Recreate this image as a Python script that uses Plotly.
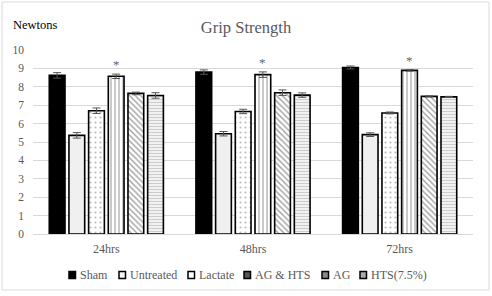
import plotly.graph_objects as go

categories = ["24hrs", "48hrs", "72hrs"]
series = ["Sham", "Untreated", "Lactate", "AG & HTS", "AG", "HTS(7.5%)"]
values = {
    "Sham":      [8.62, 8.80, 9.05],
    "Untreated": [5.36, 5.45, 5.40],
    "Lactate":   [6.70, 6.66, 6.58],
    "AG & HTS":  [8.57, 8.66, 8.89],
    "AG":        [7.64, 7.68, 7.48],
    "HTS(7.5%)": [7.53, 7.55, 7.45],
}
errors = {
    "Sham":      [0.15, 0.12, 0.08],
    "Untreated": [0.15, 0.12, 0.10],
    "Lactate":   [0.15, 0.12, 0.05],
    "AG & HTS":  [0.12, 0.15, 0.04],
    "AG":        [0.07, 0.15, 0.03],
    "HTS(7.5%)": [0.15, 0.12, 0.03],
}
starred = "AG & HTS"
y_ticks = list(range(0, 11))

styles = {
    "Sham":      dict(color="#000000", pattern=dict(shape=""), swatch="#000000"),
    "Untreated": dict(color="#f0f0f0", pattern=dict(shape=""), swatch="#f4f4f4"),
    "Lactate":   dict(color="#ffffff", pattern=dict(shape=".", fgcolor="#777777", size=5, solidity=0.15, fillmode="overlay"), swatch="#ffffff"),
    "AG & HTS":  dict(color="#ffffff", pattern=dict(shape="|", fgcolor="#888888", size=4, solidity=0.45, fillmode="overlay"), swatch="#555555"),
    "AG":        dict(color="#ffffff", pattern=dict(shape="\\", fgcolor="#444444", size=4, solidity=0.35, fillmode="overlay"), swatch="#888888"),
    "HTS(7.5%)": dict(color="#ffffff", pattern=dict(shape="-", fgcolor="#999999", size=3, solidity=0.5, fillmode="overlay"), swatch="#aaaaaa"),
}

SERIF = "Liberation Serif"
W, H = 492, 296
ML, MR, MT, MB = 33, 19, 50, 62
PW, PH = W - ML - MR, H - MT - MB

def px_x(px):
    return (px - ML) / PW

def px_y(py):
    return (H - MB - py) / PH

fig = go.Figure()
for s in series:
    st = styles[s]
    fig.add_trace(go.Bar(
        name=s, x=categories, y=values[s], showlegend=False,
        marker=dict(color=st["color"], pattern=st["pattern"],
                    line=dict(color="#000000", width=1.6)),
        error_y=dict(type="data", array=errors[s], color="#555555", thickness=1, width=4),
    ))

bargap = 0.195
slot = PW / len(categories) * (1 - bargap) / len(series)
idx = series.index(starred)
for i, c in enumerate(categories):
    fig.add_annotation(x=c, y=values[starred][i] + errors[starred][i], text="*",
                       showarrow=False, yanchor="bottom", yshift=0,
                       xshift=(idx - (len(series) - 1) / 2) * slot,
                       font=dict(family=SERIF, size=13, color="#666666"))

fig.add_annotation(text="Newtons", xref="paper", yref="paper", x=px_x(11), y=px_y(25),
                   xanchor="left", yanchor="middle", showarrow=False,
                   font=dict(family=SERIF, size=12.5, color="#000000"))

# legend drawn as swatches + text, one entry per series
legend_left_px = [69, 119, 188, 244, 322, 360]
legend_y = px_y(275)
for s, lx in zip(series, legend_left_px):
    fig.add_shape(type="rect", xref="paper", yref="paper",
                  xsizemode="pixel", ysizemode="pixel",
                  xanchor=px_x(lx), yanchor=legend_y, x0=0, x1=6.5, y0=-3.5, y1=3.5,
                  line=dict(color="#000000", width=1.5), fillcolor=styles[s]["swatch"])
    fig.add_annotation(text=s, xref="paper", yref="paper", x=px_x(lx + 8.5), y=legend_y,
                       xanchor="left", yanchor="middle", showarrow=False,
                       font=dict(family=SERIF, size=12, color="#595959"))

fig.add_shape(type="rect", xref="paper", yref="paper",
              x0=px_x(2), x1=px_x(489), y0=px_y(290), y1=px_y(2),
              line=dict(color="#d9d9d9", width=1), fillcolor="rgba(0,0,0,0)", layer="below")

fig.update_layout(
    width=W, height=H,
    margin=dict(l=ML, r=MR, t=MT, b=MB),
    paper_bgcolor="#ffffff", plot_bgcolor="#ffffff",
    barmode="group", bargap=bargap, bargroupgap=0.2,
    title=dict(text="Grip Strength", x=0.5, xanchor="center", y=1 - 27 / H, yanchor="middle",
               font=dict(family=SERIF, size=16.5, color="#595959")),
    font=dict(family=SERIF, size=11, color="#595959"),
    showlegend=False,
    xaxis=dict(showgrid=False, showline=True, linecolor="#d9d9d9", linewidth=1,
               ticks="", ticklabelstandoff=4,
               tickfont=dict(family=SERIF, size=12, color="#595959")),
    yaxis=dict(range=[0, 10], tickvals=y_ticks, showgrid=True, gridcolor="#d9d9d9",
               gridwidth=1, zeroline=False, showline=False, ticks="", ticklabelstandoff=8,
               tickfont=dict(family=SERIF, size=11.5, color="#595959")),
)

fig.write_html("out.html")
